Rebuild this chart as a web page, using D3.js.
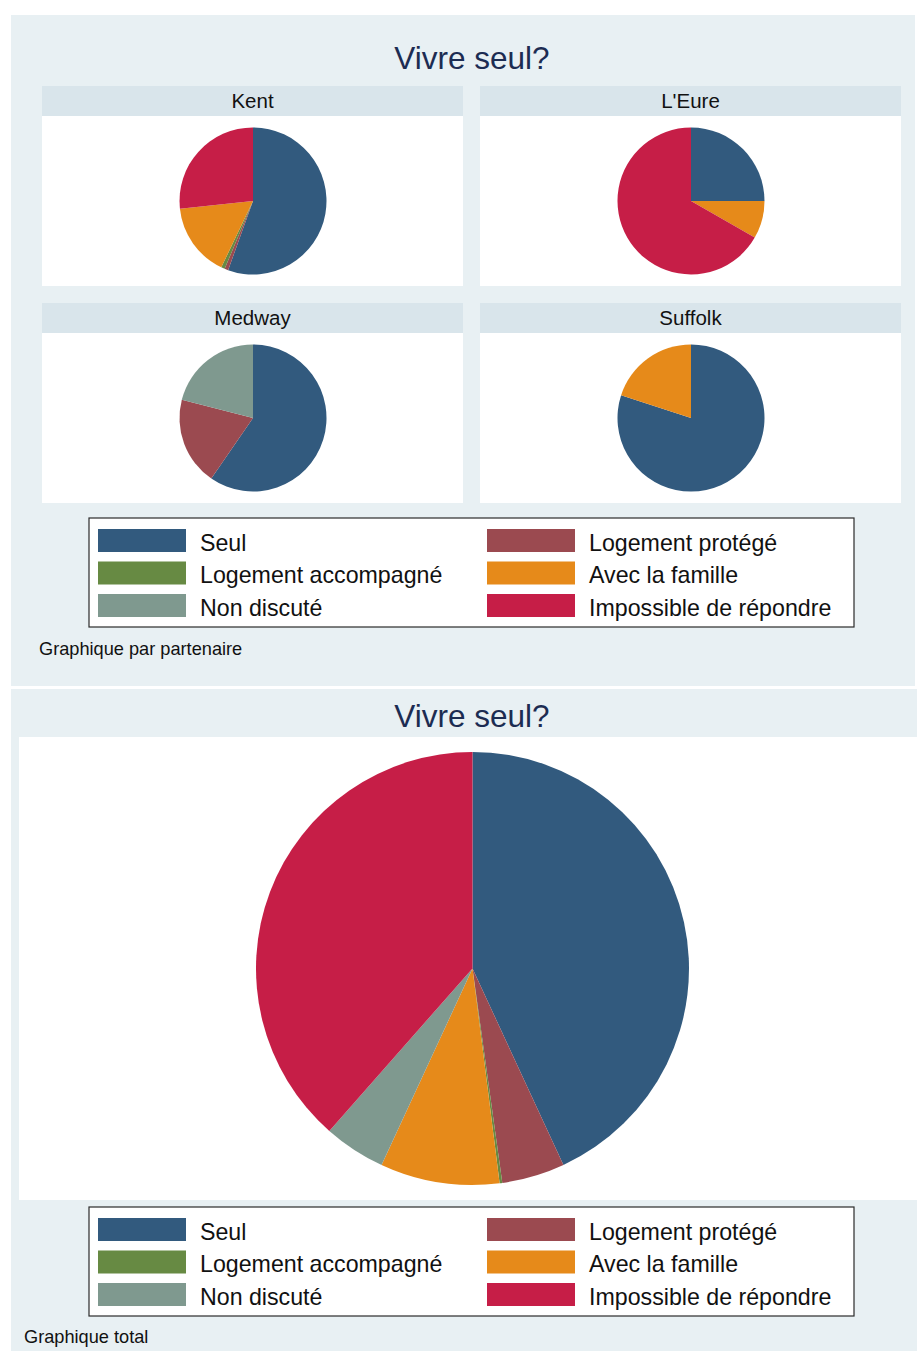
<!DOCTYPE html>
<html>
<head>
<meta charset="utf-8">
<script src="https://cdn.jsdelivr.net/npm/d3@7"></script>
<style>
  html, body { margin: 0; padding: 0; background: #ffffff; }
  svg { display: block; font-family: "Liberation Sans", Arial, Helvetica, sans-serif; }
</style>
</head>
<body>
<svg id="chart" width="917" height="1351"></svg>
<script>
// Living-situation categories, in pie (clockwise) order
const categories = ["Seul", "Logement protégé", "Logement accompagné", "Avec la famille", "Non discuté", "Impossible de répondre"];
const colors = ["#325a7e", "#9b4a50", "#678a43", "#e68a1a", "#7f998f", "#c61e47"];

// Partner panels
const partners = ["Kent", "L'Eure", "Medway", "Suffolk"];
// Share (%) of each category per partner, same order as categories
const kentValues    = [55.5, 0.8, 0.8, 16.2, 0, 26.7];
const eureValues    = [25.0, 0, 0, 8.3, 0, 66.7];
const medwayValues  = [59.6, 19.4, 0, 0, 21.0, 0];
const suffolkValues = [80.0, 0, 0, 20.0, 0, 0];
// Share (%) of each category over all partners
const totalValues   = [43.1, 4.7, 0.2, 8.9, 4.6, 38.5];

const chartTitle = "Vivre seul?";
const noteByPartner = "Graphique par partenaire";
const noteTotal = "Graphique total";

const partnerValues = [kentValues, eureValues, medwayValues, suffolkValues];

const svg = d3.select("#chart");
const PANEL_BG = "#e8f0f3";
const STRIP_BG = "#d9e5eb";
const TITLE_COLOR = "#1c2c52";

const pie = d3.pie().sort(null).value(d => d.value);

function drawPie(g, values, cx, cy, r) {
  const data = categories.map((c, i) => ({ cat: c, value: values[i], color: colors[i] }));
  const arc = d3.arc().innerRadius(0).outerRadius(r);
  g.append("g")
    .attr("transform", `translate(${cx},${cy})`)
    .selectAll("path")
    .data(pie(data).filter(d => d.data.value > 0))
    .join("path")
    .attr("d", arc)
    .attr("fill", d => d.data.color);
}

function drawLegend(g, x, y) {
  const w = 765, h = 109;
  g.append("rect")
    .attr("x", x).attr("y", y).attr("width", w).attr("height", h)
    .attr("fill", "#ffffff").attr("stroke", "#2b2b2b").attr("stroke-width", 1.2);
  // Items fill row by row over two columns
  const colX = [x + 9, x + 398];
  const rowY = [y + 11, y + 43.5, y + 76];
  categories.forEach((c, i) => {
    const col = i % 2, row = Math.floor(i / 2);
    const sx = colX[col], sy = rowY[row];
    g.append("rect")
      .attr("x", sx).attr("y", sy).attr("width", 88).attr("height", 23)
      .attr("fill", colors[i]);
    g.append("text")
      .attr("x", sx + 102).attr("y", sy + 13.5)
      .attr("dominant-baseline", "central")
      .attr("font-size", 23.2).attr("fill", "#111")
      .text(c);
  });
}

// ---------- Top panel: one pie per partner ----------
const topPanel = svg.append("g");
topPanel.append("rect").attr("x", 11).attr("y", 15).attr("width", 904).attr("height", 671).attr("fill", PANEL_BG);
topPanel.append("text")
  .attr("x", 472).attr("y", 58)
  .attr("text-anchor", "middle").attr("dominant-baseline", "central")
  .attr("font-size", 31.5).attr("fill", TITLE_COLOR)
  .text(chartTitle);

const cells = [
  { x: 42, y: 86 }, { x: 480, y: 86 },
  { x: 42, y: 303 }, { x: 480, y: 303 }
];
partners.forEach((p, i) => {
  const c = cells[i];
  const cw = 421, stripH = 30, plotH = 170;
  topPanel.append("rect").attr("x", c.x).attr("y", c.y).attr("width", cw).attr("height", stripH).attr("fill", STRIP_BG);
  topPanel.append("text")
    .attr("x", c.x + cw / 2).attr("y", c.y + stripH / 2 - 0.5)
    .attr("text-anchor", "middle").attr("dominant-baseline", "central")
    .attr("font-size", 20.5).attr("fill", "#111")
    .text(p);
  topPanel.append("rect").attr("x", c.x).attr("y", c.y + stripH).attr("width", cw).attr("height", plotH).attr("fill", "#ffffff");
  drawPie(topPanel, partnerValues[i], c.x + cw / 2 + 0.5, c.y + stripH + plotH / 2, 73.5);
});

drawLegend(topPanel, 89, 518);
topPanel.append("text")
  .attr("x", 39).attr("y", 649)
  .attr("dominant-baseline", "central")
  .attr("font-size", 18.2).attr("fill", "#111")
  .text(noteByPartner);

// ---------- Bottom panel: all partners combined ----------
const bottomPanel = svg.append("g");
bottomPanel.append("rect").attr("x", 11).attr("y", 689).attr("width", 906).attr("height", 662).attr("fill", PANEL_BG);
bottomPanel.append("text")
  .attr("x", 472).attr("y", 716)
  .attr("text-anchor", "middle").attr("dominant-baseline", "central")
  .attr("font-size", 31.5).attr("fill", TITLE_COLOR)
  .text(chartTitle);
bottomPanel.append("rect").attr("x", 19).attr("y", 737).attr("width", 898).attr("height", 463).attr("fill", "#ffffff");
drawPie(bottomPanel, totalValues, 472.5, 968.5, 216.5);

drawLegend(bottomPanel, 89, 1207);
bottomPanel.append("text")
  .attr("x", 24).attr("y", 1337)
  .attr("dominant-baseline", "central")
  .attr("font-size", 18.2).attr("fill", "#111")
  .text(noteTotal);
</script>
</body>
</html>
